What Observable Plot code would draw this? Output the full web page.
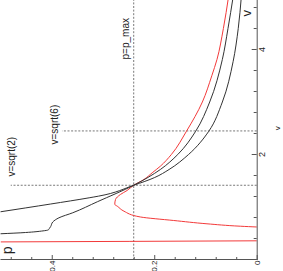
<!DOCTYPE html>
<html><head><meta charset="utf-8">
<script src="https://cdn.jsdelivr.net/npm/d3@7"></script>
<script src="https://cdn.jsdelivr.net/npm/@observablehq/plot@0.6"></script>
<style>
html,body{margin:0;padding:0;background:#fff;overflow:hidden;}
#wrap{position:relative;width:283px;height:271px;overflow:hidden;background:#fff;}
#wrap svg{position:absolute;left:0;top:0;transform-origin:0 0;transform:translate(0px,277.5px) rotate(-90deg);}
</style></head><body><div id="wrap"></div>
<script>
// tick values / labels
const vTicks = [2, 4];
const vTickLabels = ["2", "4"];
const vMajor = [0, 2, 4];
const vMinor = [0.4, 0.8, 1.2, 1.6, 2.4, 2.8, 3.2, 3.6, 4.4, 4.8];
const pTicks = [0, 0.2, 0.4];
const pTickLabels = ["0", "0.2", "0.4"];
const pMinor = [0.04, 0.08, 0.12, 0.16, 0.24, 0.28, 0.32, 0.36, 0.44, 0.48];

// reference lines
const pMax = 0.241;
const vSqrt2 = 1.414;
const vSqrt6 = 2.449;

// red curve, steep branch near small v
const vRedA = [0.335, 0.345, 0.356];
const pRedA = [0.5, 0.25, 0.0];
// red curve, main branch
const vRedB = [0.619, 0.634, 0.680, 0.743, 0.81, 0.92, 1.015, 1.05, 1.143, 1.238, 1.314, 1.414, 1.524, 1.651, 1.777, 2.0, 2.444, 3.0, 3.5, 3.81, 4.4, 5.0];
const pRedB = [0.0, 0.033, 0.098, 0.163, 0.228, 0.260, 0.273, 0.278, 0.2765, 0.267, 0.254, 0.241, 0.221, 0.205, 0.189, 0.1675, 0.138, 0.107, 0.0886, 0.0785, 0.066, 0.056];
// black curve with kink
const vBlkB = [0.49, 0.514, 0.545, 0.562, 0.600, 0.629, 0.714, 0.794, 0.89, 1.1, 1.414, 1.714, 2.0, 2.444, 3.0, 3.81, 4.4, 5.0];
const pBlkB = [0.501, 0.452, 0.418, 0.408, 0.405, 0.403, 0.399, 0.387, 0.36, 0.312, 0.241, 0.189, 0.155, 0.120, 0.0927, 0.068, 0.057, 0.047];
// steep black curve
const vBlkA = [0.909, 1.057, 1.175, 1.206, 1.414, 1.562, 1.714, 2.0, 2.444, 3.0, 3.77, 4.4, 5.0];
const pBlkA = [0.501, 0.403, 0.328, 0.31, 0.241, 0.200, 0.172, 0.134, 0.0944, 0.068, 0.047, 0.037, 0.031];

const pts = (vs, ps) => vs.map((v, i) => ({v, p: ps[i]}));
const fmt = (vals, labels) => d => labels[vals.indexOf(d)];

const font = "'Liberation Sans Narrow','Liberation Sans',Arial,sans-serif";
const axisCol = "#555";
const dash = "2,1.6";

const chart = Plot.plot({
  width: 280, height: 283,
  marginLeft: 17.5, marginRight: 0, marginTop: 0.5, marginBottom: 26.3,
  x: {domain: [0, 5]},
  y: {domain: [0, 0.5]},
  style: {fontFamily: font, fontSize: "10px", color: "#222", background: "#fff", overflow: "visible"},
  marks: [
    Plot.ruleY([pMax], {x1: 0, x2: 5, stroke: axisCol, strokeWidth: 0.8, strokeDasharray: dash}),
    Plot.ruleX([vSqrt2], {y1: 0, y2: 0.48, stroke: axisCol, strokeWidth: 0.8, strokeDasharray: dash}),
    Plot.ruleX([vSqrt6], {y1: 0, y2: 0.38, stroke: axisCol, strokeWidth: 0.8, strokeDasharray: dash}),
    Plot.line(pts(vRedA, pRedA), {x: "v", y: "p", stroke: "#f23a3a", strokeWidth: 1, clip: true}),
    Plot.line(pts(vRedB, pRedB), {x: "v", y: "p", stroke: "#f23a3a", strokeWidth: 1, curve: "monotone-x", clip: true}),
    Plot.line(pts(vBlkB, pBlkB), {x: "v", y: "p", stroke: "#333", strokeWidth: 1, curve: "monotone-x", clip: true}),
    Plot.line(pts(vBlkA, pBlkA), {x: "v", y: "p", stroke: "#333", strokeWidth: 1, curve: "monotone-x", clip: true}),
    Plot.ruleX([0], {stroke: axisCol}),
    Plot.ruleY([0], {stroke: axisCol}),
    Plot.axisX(vMinor, {tickSize: -3, fill: "none", label: null, stroke: axisCol}),
    Plot.axisX(vMajor, {tickSize: -5, fill: "none", label: null, stroke: axisCol}),
    Plot.axisX(vTicks, {tickSize: 0, tickPadding: 1, label: null, fill: "#222", fontSize: 9, tickFormat: fmt(vTicks, vTickLabels)}),
    Plot.axisY(pMinor, {tickSize: -3, fill: "none", label: null, stroke: axisCol}),
    Plot.axisY(pTicks, {tickSize: -5, fill: "none", label: null, stroke: axisCol}),
    Plot.axisY(pTicks, {tickSize: 0, tickPadding: 1, label: null, fill: "#222", fontSize: 8, tickFormat: fmt(pTicks, pTickLabels)}),
    Plot.text(["p=p_max"], {x: 3.81, y: 0.251, text: d => d, textAnchor: "start", lineAnchor: "bottom", fontSize: 10, fill: "#222"}),
    Plot.text(["v=sqrt(2)"], {x: 1.58, y: 0.472, text: d => d, textAnchor: "start", lineAnchor: "bottom", fontSize: 10, fill: "#222"}),
    Plot.text(["v=sqrt(6)"], {x: 2.19, y: 0.388, text: d => d, textAnchor: "start", lineAnchor: "bottom", fontSize: 10, fill: "#222"}),
    Plot.text(["p"], {x: 0.1, y: 0.478, text: d => d, textAnchor: "start", lineAnchor: "bottom", fontSize: 14, fill: "#222"}),
    Plot.text(["v"], {x: 4.63, y: 0.013, text: d => d, textAnchor: "start", lineAnchor: "bottom", fontSize: 13, fill: "#222"}),
    Plot.text(["v"], {x: 2.5, y: 0, dy: 17, text: d => d, textAnchor: "middle", lineAnchor: "top", fontSize: 8, fill: "#222"})
  ]
});
document.getElementById("wrap").appendChild(chart);
</script>
</body></html>
